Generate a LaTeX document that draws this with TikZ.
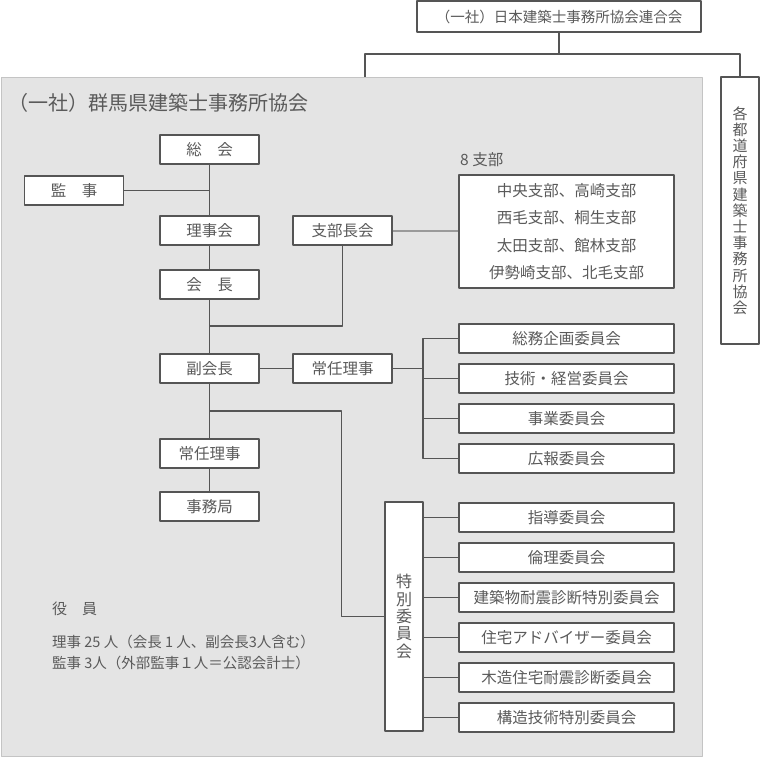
\documentclass[tikz,border=0pt]{standalone}
\usepackage{fontspec}
\setmainfont{Noto Sans CJK JP}
\usetikzlibrary{calc}
\definecolor{linegray}{HTML}{555555}
\definecolor{txtgray}{HTML}{5A5A5A}
\definecolor{panelgray}{HTML}{E4E4E4}
\definecolor{rimgray}{HTML}{C4C4C4}
\definecolor{linkgray}{HTML}{9A9A9A}

\begin{document}
\begin{tikzpicture}[x=1pt, y=-1pt, line join=round,
    box/.style={draw=linegray, fill=white, line width=1.2pt, minimum width=99pt,
      minimum height=29pt, inner sep=0pt, text=txtgray, font=\fontsize{15.5}{18}\selectfont},
    wide/.style={box, minimum width=215pt},
    tall/.style={box, minimum width=38pt, align=center},
    wire/.style={draw=linegray, line width=1.2pt},
    label/.style={text=txtgray, inner sep=0pt, anchor=west}]
  \useasboundingbox (0,0) rectangle (760,757);

  % outer frame and federation
  \node[draw=rimgray, fill=panelgray, line width=0.8pt, minimum width=701pt, minimum height=679pt,
    inner sep=0pt] (gunma) at (351.5,416.5) {};
  \node[box, minimum width=284pt, minimum height=31pt, font=\fontsize{14.5}{17}\selectfont]
    (rengo) at (559,16.5) {（一社）日本建築士事務所協会連合会};
  \node[tall, minimum height=267pt, font=\fontsize{15}{16.2}\selectfont] (kakuto) at (740,210.5)
    {各\\都\\道\\府\\県\\建\\築\\士\\事\\務\\所\\協\\会};
  \coordinate (fork) at (559,54);
  \draw[wire] (rengo.south) -- (fork);
  \draw[wire] (gunma.north -| 365,0) |- (fork) -| (kakuto.north);

  \node[label, font=\fontsize{20}{22}\selectfont] (title) at (8,103) {（一社）群馬県建築士事務所協会};

  % main column
  \node[box] (sokai) at (209.5,149.5) {総　会};
  \node[box] (kanji) at (74,190.5) {監　事};
  \node[box] (rijikai) at (209.5,230.5) {理事会};
  \node[box] (kaicho) at (209.5,284.5) {会　長};
  \node[box] (fuku) at (209.5,368.5) {副会長};
  \node[box] (jonin) at (209.5,453.5) {常任理事};
  \node[box] (jimu) at (209.5,506.5) {事務局};
  \node[box] (shibucho) at (342.5,230.5) {支部長会};
  \node[box] (joninR) at (342.5,368.5) {常任理事};

  \draw[wire] (sokai) -- (rijikai) -- (kaicho) -- (fuku) -- (jonin) -- (jimu);
  \draw[wire] (kanji.east) -- (kanji.east -| sokai.south);
  \draw[wire] (shibucho.south) |- (kaicho.south |- 0,326);
  \draw[wire] (fuku) -- (joninR);

  % branches
  \node[label, font=\fontsize{15.5}{18}\selectfont] (hachi) at (460,160) {8 支部};
  \node[wide, minimum height=113pt, align=center, font=\fontsize{15.5}{27.4}\selectfont]
    (shibu) at (566.5,231.5)
    {中央支部、高崎支部\\西毛支部、桐生支部\\太田支部、館林支部\\伊勢崎支部、北毛支部};
  \draw[draw=linkgray, line width=2pt] (shibucho.east) -- (shibucho.east -| shibu.west);

  % standing committees
  \node[wide] (c1) at (566.5,338.5) {総務企画委員会};
  \node[wide] (c2) at (566.5,378.5) {技術・経営委員会};
  \node[wide] (c3) at (566.5,418.5) {事業委員会};
  \node[wide] (c4) at (566.5,458.5) {広報委員会};
  \coordinate (bus) at (423,0);
  \draw[wire] (c1.west) -| (bus |- c4.west) -- (c4.west);
  \foreach \i in {2,3} {
    \draw[wire] (c\i.west) -- (bus |- c\i.west);
  }
  \draw[wire] (joninR.east) -- (bus |- joninR.east);

  % special committees
  \node[tall, minimum height=229pt, font=\fontsize{16}{17.4}\selectfont] (toku) at (404,616.5)
    {特\\別\\委\\員\\会};
  \foreach \name [count=\i] in {指導委員会, 倫理委員会, 建築物耐震診断特別委員会,
      住宅アドバイザー委員会, 木造住宅耐震診断委員会, 構造技術特別委員会} {
    \node[wide] (s\i) at (566.5,477.5+40*\i) {\name};
    \draw[wire] (s\i.west) -- (s\i.west -| toku.east);
  }
  \coordinate (split) at (209.5,411);
  \draw[wire] (split) -| ($(toku.west)+(-43,0)$) -- (toku.west);

  % officers
  \node[label, font=\fontsize{15}{17}\selectfont] (yakuin) at (52,609) {役　員};
  \node[label, font=\fontsize{14.5}{16}\selectfont] (riji) at (52,642)
    {理事 25 人（会長 1 人、副会長3人含む）};
  \node[label, font=\fontsize{14.5}{16}\selectfont] (kansa) at (52,663)
    {監事 3人（外部監事１人＝公認会計士）};
\end{tikzpicture}
\end{document}
